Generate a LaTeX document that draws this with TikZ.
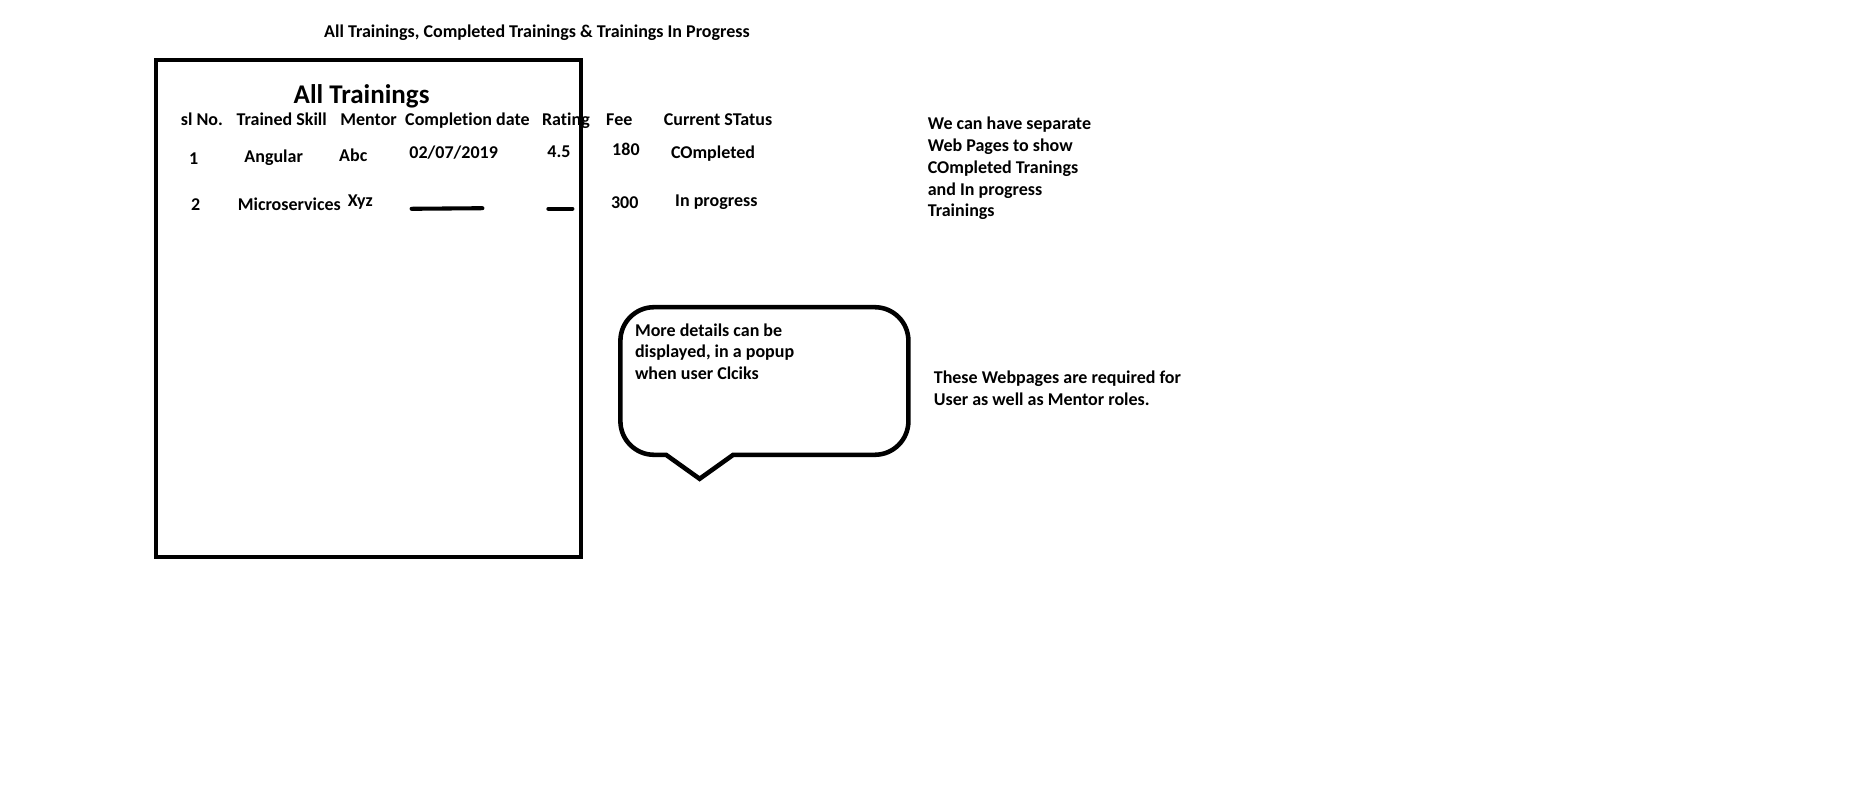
\documentclass[tikz,border=0pt]{standalone}
\usepackage{fontspec}
\setmainfont{Carlito}[Ligatures=NoCommon]
\usepackage{tikz}
\usetikzlibrary{positioning}

\begin{document}
\begin{tikzpicture}[x=1pt,y=-1pt]
    \tikzstyle{txt}=[anchor=base west,inner sep=0pt,font=\bfseries\fontsize{15}{18.2}\selectfont,align=left]
    \tikzstyle{heading}=[anchor=base west,inner sep=0pt,font=\bfseries\fontsize{22.5}{27}\selectfont]
    \tikzstyle{frame}=[line width=3.8pt]
    \tikzstyle{blank}=[line width=3.4pt,line cap=round]

    \useasboundingbox (0,0) rectangle (1560,657.5);

    % title and page frame
    \node[txt] (T) at (270,31) {All Trainings, Completed Trainings \& Trainings In Progress};
    \draw[frame] (130,50) rectangle (484,464);
    \node[heading] (H) at (244.5,86) {All Trainings};

    % column heads
    \node[txt] (C1) at (150.5,105) {sl No.};
    \node[txt] (C2) at (197,105) {Trained Skill};
    \node[txt] (C3) at (283.5,104.5) {Mentor};
    \node[txt] (C4) at (337.5,105) {Completion date};
    \node[txt] (C5) at (451.5,105) {Rating};
    \node[txt] (C6) at (505,105) {Fee};
    \node[txt] (C7) at (553,104.7) {Current STatus};

    % first row
    \node[txt] (A1) at (157.5,137) {1};
    \node[txt] (A2) at (203.5,135.6) {Angular};
    \node[txt] (A3) at (282.5,134.5) {Abc};
    \node[txt] (A4) at (341,132) {02/07/2019};
    \node[txt] (A5) at (456,131) {4.5};
    \node[txt] (A6) at (510,129.5) {180};
    \node[txt] (A7) at (559,132.5) {COmpleted};

    % second row
    \node[txt] (B1) at (159,175.6) {2};
    \node[txt] (B2) at (198,175.6) {Microservices};
    \node[txt] (B3) at (289.7,172) {Xyz};
    \coordinate (B4a) at (343,174);
    \coordinate (B4b) at (402,173.5);
    \coordinate (B5a) at (457,174);
    \coordinate (B5b) at (477,174);
    \node[txt] (B6) at (509,173.6) {300};
    \node[txt] (B7) at (562.5,172) {In progress};

    \draw[blank] (B4a) -- (B4b);
    \draw[blank] (B5a) -- (B5b);

    % notes (base = last line)
    \node[txt] (N1) at (773,180.8) {We can have separate\\Web Pages to show\\COmpleted Tranings\\and In progress\\Trainings};
    \node[txt] (N2) at (778,337.5) {These Webpages are required for\\User as well as Mentor roles.};

    % popup bubble
    \draw[frame] (583,399) -- (555,379) [rounded corners=28pt] -- (517,379) -- (517,256)
        -- (757,256) -- (757,379) [sharp corners] -- (611,379) -- cycle;
    \node[txt] (P) at (529,316.5) {More details can be\\displayed, in a popup\\when user Clciks};

\end{tikzpicture}
\end{document}
